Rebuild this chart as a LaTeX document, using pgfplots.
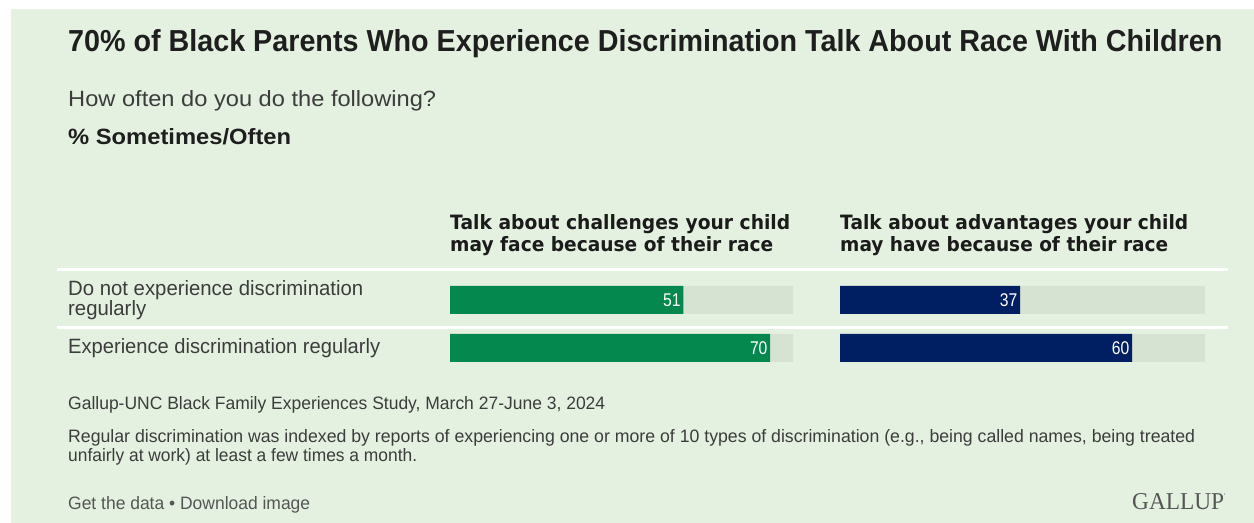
\documentclass[border=0pt]{standalone}
\usepackage{fontspec}
\usepackage{graphicx}
\usepackage{pgfplots}
\pgfplotsset{compat=1.18}
\setmainfont{Liberation Sans}
\newfontfamily\hdrfont{DejaVu Sans}
\newfontfamily\logofont{Liberation Serif}
\definecolor{bg}{RGB}{228,241,224}
\definecolor{track}{RGB}{214,226,210}
\definecolor{gbar}{RGB}{4,136,78}
\definecolor{nbar}{RGB}{0,31,98}
\definecolor{txt}{RGB}{30,30,30}
\definecolor{gtxt}{RGB}{60,60,60}
\definecolor{ftxt}{RGB}{85,85,85}
\newcommand{\fit}[3]{\resizebox{#1bp}{#2bp}{#3}}
\pgfplotsset{
  rowbars/.style={
    xbar, scale only axis, hide axis, clip=false,
    height=96bp, xmin=0, xmax=75, ymin=-0.5, ymax=1.5,
    bar width=28bp, anchor=south west,
  },
  valnodes/.style={
    nodes near coords={\scalebox{0.85}[1]{\pgfmathprintnumber[assume math mode=true]{\pgfplotspointmeta}}},
    every node near coord/.append style={anchor=east, text=white, font=\fontsize{18.5}{18.5}\selectfont, inner sep=1.5bp, xshift=-1bp},
  },
}
\begin{document}
\begin{tikzpicture}[x=1bp,y=1bp]
% background
\fill[white] (0,0) rectangle (1254,523);
\fill[bg] (11,0) rectangle (1254,514);
% title block
\node[anchor=base west, inner sep=0, text=txt] at (68,471) {\fit{1154}{22}{\bfseries 70\% of Black Parents Who Experience Discrimination Talk About Race With Children}};
\node[anchor=base west, inner sep=0, text=gtxt] at (68,416) {\fit{368}{16}{How often do you do the following?}};
\node[anchor=base west, inner sep=0, text=txt] at (68,378) {\fit{223}{16}{\bfseries \% Sometimes/Often}};
% column headers
\node[anchor=base west, inner sep=0, text=txt!90!black] at (450,293) {\fit{340}{15}{\hdrfont\bfseries Talk about challenges your child}};
\node[anchor=base west, inner sep=0, text=txt!90!black] at (450,271) {\fit{323}{15}{\hdrfont\bfseries may face because of their race}};
\node[anchor=base west, inner sep=0, text=txt!90!black] at (840,293) {\fit{348}{15}{\hdrfont\bfseries Talk about advantages your child}};
\node[anchor=base west, inner sep=0, text=txt!90!black] at (840,271) {\fit{328}{15}{\hdrfont\bfseries may have because of their race}};
% separators
\draw[white, line width=3bp] (57,253) -- (1228,253);
\draw[white, line width=3bp] (57,195) -- (1228,195);
% row labels
\node[anchor=base west, inner sep=0, text=gtxt] at (68,227) {\fit{295}{15}{Do not experience discrimination}};
\node[anchor=base west, inner sep=0, text=gtxt] at (68,207) {\fit{78}{15}{regularly}};
\node[anchor=base west, inner sep=0, text=gtxt] at (68,169) {\fit{312}{15}{Experience discrimination regularly}};
% chart 1
\begin{axis}[rowbars, at={(450bp,151bp)}, width=343bp]
\addplot[fill=track, draw=none, bar shift=0pt] coordinates {(75,1) (75,0)};
\addplot[fill=gbar, draw=none, bar shift=0pt, valnodes] coordinates {(51,1) (70,0)};
\end{axis}
% chart 2
\begin{axis}[rowbars, at={(840bp,151bp)}, width=365bp]
\addplot[fill=track, draw=none, bar shift=0pt] coordinates {(75,1) (75,0)};
\addplot[fill=nbar, draw=none, bar shift=0pt, valnodes] coordinates {(37,1) (60,0)};
\end{axis}
% footnotes
\node[anchor=base west, inner sep=0, text=gtxt] at (68,113) {\fit{537}{13}{Gallup-UNC Black Family Experiences Study, March 27-June 3, 2024}};
\node[anchor=base west, inner sep=0, text=gtxt] at (68,80) {\fit{1127}{13}{Regular discrimination was indexed by reports of experiencing one or more of 10 types of discrimination (e.g., being called names, being treated}};
\node[anchor=base west, inner sep=0, text=gtxt] at (68,61) {\fit{349}{13}{unfairly at work) at least a few times a month.}};
\node[anchor=base west, inner sep=0, text=ftxt] at (68,13) {\fit{242}{13}{Get the data \textbullet\ Download image}};
\node[anchor=base west, inner sep=0, text=ftxt] at (1132,13) {\fit{92}{16}{\logofont GALLUP}};
\node[anchor=base west, inner sep=0, text=ftxt, font=\logofont\fontsize{7}{7}\selectfont] at (1224,24) {'};
\end{tikzpicture}
\end{document}
